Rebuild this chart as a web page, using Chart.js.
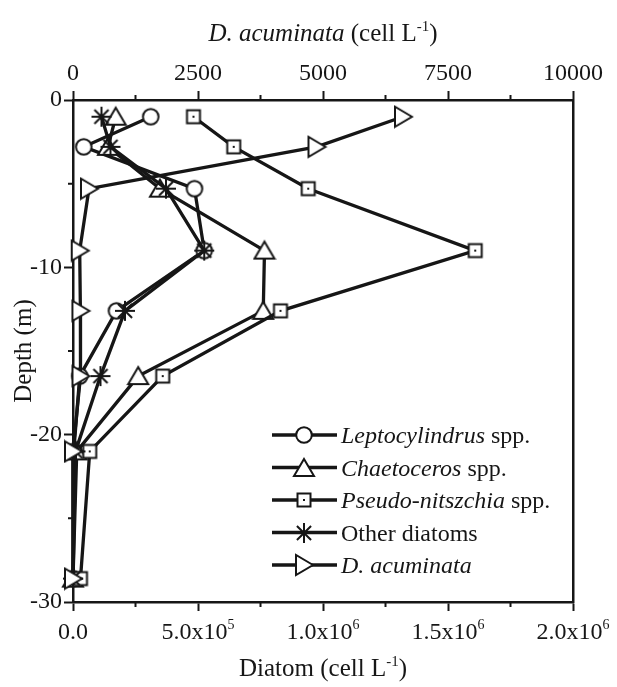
<!DOCTYPE html>
<html>
<head>
<meta charset="utf-8">
<script src="https://cdn.jsdelivr.net/npm/chart.js@4.4.1/dist/chart.umd.min.js"></script>
<style>
  html, body { margin: 0; padding: 0; background: #fff; }
  #grafico { display: block; }
</style>
</head>
<body>
<canvas id="grafico" width="617" height="687"></canvas>
<script>
// Profundidad de cada muestra (m)
const profundidades = [-1, -2.8, -5.3, -9, -12.6, -16.5, -21, -28.6];

// Diatomeas (cell L-1) por profundidad
const leptocylindrus = [311000, 43000, 486000, 525000, 174000, 27000, 3000, 0];
const chaetoceros    = [171000, 140000, 348000, 766000, 761000, 261000, 15000, 0];
const pseudoNitz     = [482000, 643000, 941000, 1609000, 830000, 359000, 67000, 30000];
const otrasDiatomeas = [114000, 150000, 372000, 525000, 208000, 110000, 10000, 0];

// D. acuminata (cell L-1), eje superior
const dAcuminata = [6600, 4870, 320, 134, 148, 150, 0, 0];

// Nombres de series para la leyenda (parte en cursiva + parte normal)
const nombresCursiva = ['Leptocylindrus', 'Chaetoceros', 'Pseudo-nitszchia', '', 'D. acuminata'];
const nombresNormal  = [' spp.', ' spp.', ' spp.', 'Other diatoms', ''];

// Ticks de los ejes
const ticksDiatom = [0, 500000, 1000000, 1500000, 2000000];
const ticksDino   = [0, 2500, 5000, 7500, 10000];
const ticksDepth  = [-30, -20, -10, 0];

const TINTA  = '#161616';
const FUENTE = '"Liberation Serif", "Times New Roman", serif';

/*
  lienzo: crea un canvas pequeño para usarlo como pointStyle.
*/
function lienzo(w, h, dibujar) {
  const c = document.createElement('canvas');
  c.width = w; c.height = h;
  const ctx = c.getContext('2d');
  ctx.strokeStyle = TINTA;
  ctx.fillStyle = '#fff';
  ctx.lineWidth = 2;
  dibujar(ctx, w / 2, h / 2);
  return c;
}

const marcadores = {
  circulo: lienzo(20, 20, (ctx, cx, cy) => {
    ctx.beginPath();
    ctx.arc(cx, cy, 7.8, 0, Math.PI * 2);
    ctx.fill(); ctx.stroke();
  }),
  triangulo: lienzo(24, 24, (ctx, cx, cy) => {
    ctx.beginPath();
    ctx.moveTo(cx, cy - 9);
    ctx.lineTo(cx + 10, cy + 8);
    ctx.lineTo(cx - 10, cy + 8);
    ctx.closePath();
    ctx.fill(); ctx.stroke();
  }),
  cuadrado: lienzo(18, 18, (ctx, cx, cy) => {
    ctx.beginPath();
    ctx.rect(cx - 6.5, cy - 6.5, 13, 13);
    ctx.fill(); ctx.stroke();
    ctx.fillStyle = TINTA;
    ctx.fillRect(cx - 1, cy - 1, 2, 2);
  }),
  asterisco: lienzo(24, 24, (ctx, cx, cy) => {
    ctx.lineWidth = 2;
    ctx.beginPath();
    for (let k = 0; k < 4; k++) {
      const a = k * Math.PI / 4;
      ctx.moveTo(cx - 10 * Math.cos(a), cy - 10 * Math.sin(a));
      ctx.lineTo(cx + 10 * Math.cos(a), cy + 10 * Math.sin(a));
    }
    ctx.stroke();
  }),
  trianguloDer: lienzo(24, 24, (ctx, cx, cy) => {
    ctx.beginPath();
    ctx.moveTo(cx + 9, cy);
    ctx.lineTo(cx - 8, cy - 10);
    ctx.lineTo(cx - 8, cy + 10);
    ctx.closePath();
    ctx.fill(); ctx.stroke();
  })
};
const ordenMarcadores = ['circulo', 'triangulo', 'cuadrado', 'asterisco', 'trianguloDer'];

const puntos = (valores) => valores.map((v, i) => ({ x: v, y: profundidades[i] }));

// orden: la última serie queda dibujada encima
function serie(valores, marcador, eje, orden) {
  return {
    data: puntos(valores),
    xAxisID: eje,
    yAxisID: 'y',
    order: orden,
    showLine: true,
    borderColor: TINTA,
    borderWidth: 3.3,
    pointStyle: marcadores[marcador],
    pointRadius: 8,
    clip: false
  };
}

// Escribe un texto con partes en cursiva y superíndices
function textoMixto(ctx, partes, x, y, tam, alinear) {
  const fuentePara = (p) => `${p.it ? 'italic ' : ''}${p.sup ? Math.round(tam * 0.6) : tam}px ${FUENTE}`;
  let ancho = 0;
  const anchos = partes.map(p => {
    ctx.font = fuentePara(p);
    const w = ctx.measureText(p.t).width;
    ancho += w;
    return w;
  });
  let cx = alinear === 'center' ? x - ancho / 2 : x;
  partes.forEach((p, i) => {
    ctx.font = fuentePara(p);
    ctx.fillText(p.t, cx, p.sup ? y - tam * 0.42 : y);
    cx += anchos[i];
  });
}

const ejeComun = {
  grid: { drawOnChartArea: false, tickLength: 9, tickWidth: 2, tickColor: TINTA },
  border: { color: TINTA, width: 2.5 }
};

// Plugin: títulos, etiquetas con exponente, ticks menores y leyenda
const rotulos = {
  id: 'rotulos',
  afterDraw(chart) {
    const ctx = chart.ctx;
    const sx = chart.scales.x, sx2 = chart.scales.x2, sy = chart.scales.y;
    const area = chart.chartArea;
    ctx.save();
    ctx.fillStyle = TINTA;
    ctx.strokeStyle = TINTA;
    ctx.textBaseline = 'alphabetic';

    // ticks menores (a mitad de cada intervalo)
    ctx.lineWidth = 2;
    ctx.beginPath();
    for (let i = 0; i < ticksDiatom.length - 1; i++) {
      const px = sx.getPixelForValue((ticksDiatom[i] + ticksDiatom[i + 1]) / 2);
      ctx.moveTo(px, area.bottom); ctx.lineTo(px, area.bottom + 5);
      const px2 = sx2.getPixelForValue((ticksDino[i] + ticksDino[i + 1]) / 2);
      ctx.moveTo(px2, area.top); ctx.lineTo(px2, area.top - 5);
    }
    for (let i = 0; i < ticksDepth.length - 1; i++) {
      const py = sy.getPixelForValue((ticksDepth[i] + ticksDepth[i + 1]) / 2);
      ctx.moveTo(area.left, py); ctx.lineTo(area.left - 5, py);
    }
    ctx.stroke();

    // etiquetas del eje inferior: 0.0, 5.0x10^5 ...
    sx.ticks.forEach(t => {
      const px = sx.getPixelForValue(t.value);
      let partes;
      if (t.value === 0) {
        partes = [{ t: '0.0' }];
      } else {
        const e = Math.floor(Math.log10(t.value));
        partes = [{ t: (t.value / Math.pow(10, e)).toFixed(1) + 'x10' }, { t: String(e), sup: true }];
      }
      textoMixto(ctx, partes, px, 639, 24, 'center');
    });

    // títulos de ejes
    const cx = (area.left + area.right) / 2;
    textoMixto(ctx, [{ t: 'D. acuminata', it: true }, { t: ' (cell L' }, { t: '-1', sup: true }, { t: ')' }], cx, 41, 25, 'center');
    textoMixto(ctx, [{ t: 'Diatom (cell L' }, { t: '-1', sup: true }, { t: ')' }], cx, 676, 25, 'center');

    ctx.save();
    ctx.translate(31, (area.top + area.bottom) / 2);
    ctx.rotate(-Math.PI / 2);
    textoMixto(ctx, [{ t: 'Depth (m)' }], 0, 0, 25, 'center');
    ctx.restore();

    // leyenda
    const lx0 = 272, lx1 = 337, lm = 304, lt = 341;
    nombresCursiva.forEach((nom, i) => {
      const ly = 435 + i * 32.5;
      ctx.lineWidth = 3.3;
      ctx.beginPath();
      ctx.moveTo(lx0, ly); ctx.lineTo(lx1, ly);
      ctx.stroke();
      const img = marcadores[ordenMarcadores[i]];
      ctx.drawImage(img, Math.round(lm - img.width / 2), Math.round(ly - img.height / 2));
      const partes = [];
      if (nom) partes.push({ t: nom, it: true });
      if (nombresNormal[i]) partes.push({ t: nombresNormal[i] });
      textoMixto(ctx, partes, lt, ly + 8, 24, 'left');
    });

    ctx.restore();
  }
};

Chart.defaults.font.family = FUENTE;
Chart.defaults.color = TINTA;

new Chart(document.getElementById('grafico'), {
  type: 'scatter',
  data: {
    datasets: [
      serie(leptocylindrus, 'circulo', 'x', 4),
      serie(chaetoceros, 'triangulo', 'x', 3),
      serie(pseudoNitz, 'cuadrado', 'x', 2),
      serie(otrasDiatomeas, 'asterisco', 'x', 1),
      serie(dAcuminata, 'trianguloDer', 'x2', 0)
    ]
  },
  options: {
    responsive: false,
    devicePixelRatio: 1,
    animation: false,
    events: [],
    layout: { padding: { left: 0, right: 44, top: 0, bottom: 0 } },
    plugins: { legend: { display: false }, tooltip: { enabled: false } },
    scales: {
      x: {
        type: 'linear', position: 'bottom',
        min: ticksDiatom[0], max: ticksDiatom[ticksDiatom.length - 1],
        ticks: { display: false, stepSize: ticksDiatom[1] - ticksDiatom[0] },
        ...ejeComun,
        afterFit: s => { s.height = 85; }
      },
      x2: {
        type: 'linear', position: 'top',
        min: ticksDino[0], max: ticksDino[ticksDino.length - 1],
        ticks: {
          stepSize: ticksDino[1] - ticksDino[0], font: { size: 24 }, padding: 3, maxRotation: 0,
          callback: v => String(v)
        },
        ...ejeComun,
        afterFit: s => { s.height = 100; }
      },
      y: {
        type: 'linear', position: 'left',
        min: ticksDepth[0], max: ticksDepth[ticksDepth.length - 1],
        ticks: { stepSize: 10, font: { size: 24 }, padding: 2, callback: v => String(v) },
        ...ejeComun,
        afterFit: s => { s.width = 73; }
      },
      y2: {
        type: 'linear', position: 'right',
        min: ticksDepth[0], max: ticksDepth[ticksDepth.length - 1],
        ticks: { display: false },
        grid: { display: false },
        border: { color: TINTA, width: 2.5 },
        afterFit: s => { s.width = 0; }
      }
    }
  },
  plugins: [rotulos]
});
</script>
</body>
</html>
